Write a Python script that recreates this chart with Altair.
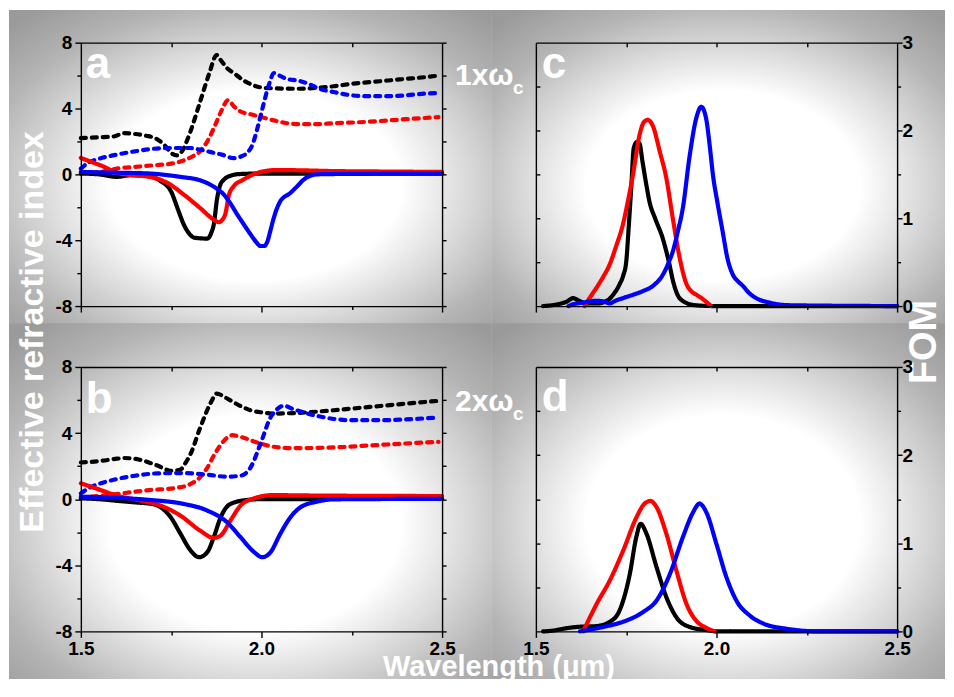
import urllib.parse
import altair as alt
import pandas as pd

FONT = "Liberation Sans"

# ---------------- tick values ----------------
X_MAJOR = [1.5, 2.0, 2.5]
X_MINOR = [1.75, 2.25]
X_TOP = [1.75, 2.0, 2.25]
N_MAJOR = [-8, -4, 0, 4, 8]
N_MINOR = [-6, -2, 2, 6]
N_ALL = [-8, -6, -4, -2, 0, 2, 4, 6, 8]
F_MAJOR = [0, 1, 2, 3]
F_MINOR = [0.5, 1.5, 2.5]
F_INNER = [0.5, 1.0, 1.5, 2.0, 2.5]

# ---------------- panel a (1x wc) ----------------
A_K_DASH_X = [1.50, 1.55, 1.59, 1.62, 1.65, 1.68, 1.71, 1.735, 1.75, 1.767, 1.78, 1.80, 1.83, 1.855, 1.876, 1.887, 1.905, 1.924, 1.951, 1.979, 2.016, 2.1, 2.15, 2.2, 2.25, 2.3, 2.35, 2.4, 2.45, 2.49]
A_K_DASH_Y = [2.2, 2.25, 2.3, 2.5, 2.45, 2.35, 2.15, 1.7, 1.3, 1.15, 1.4, 2.4, 4.4, 6.1, 7.25, 6.95, 6.45, 6.14, 5.7, 5.4, 5.24, 5.2, 5.25, 5.35, 5.5, 5.6, 5.7, 5.8, 5.9, 6.0]
A_R_DASH_X = [1.50, 1.55, 1.58, 1.60, 1.65, 1.70, 1.75, 1.785, 1.81, 1.83, 1.85, 1.87, 1.89, 1.907, 1.925, 1.942, 1.97, 1.997, 2.03, 2.06, 2.1, 2.15, 2.2, 2.3, 2.4, 2.49]
A_R_DASH_Y = [0.1, 0.15, 0.25, 0.35, 0.45, 0.55, 0.65, 0.85, 1.1, 1.4, 2.0, 2.9, 3.9, 4.5, 4.1, 3.82, 3.65, 3.5, 3.3, 3.15, 3.05, 3.05, 3.1, 3.2, 3.35, 3.48]
A_B_DASH_X = [1.50, 1.52, 1.55, 1.60, 1.65, 1.70, 1.75, 1.80, 1.83, 1.86, 1.89, 1.923, 1.945, 1.96, 1.975, 1.99, 2.005, 2.02, 2.035, 2.05, 2.07, 2.1, 2.13, 2.16, 2.2, 2.25, 2.3, 2.35, 2.4, 2.45, 2.49]
A_B_DASH_Y = [0.35, 0.7, 0.95, 1.2, 1.4, 1.55, 1.6, 1.6, 1.5, 1.35, 1.2, 0.99, 1.1, 1.3, 1.8, 2.9, 4.2, 5.4, 6.15, 6.0, 5.8, 5.7, 5.5, 5.2, 5.0, 4.8, 4.75, 4.75, 4.8, 4.9, 4.95]
A_K_SOL_X = [1.50, 1.55, 1.60, 1.64, 1.69, 1.72, 1.75, 1.77, 1.785, 1.80, 1.815, 1.85, 1.862, 1.868, 1.877, 1.885, 1.896, 1.915, 1.94, 2.0, 2.5]
A_K_SOL_Y = [0.05, 0.0, -0.15, -0.05, -0.12, -0.4, -1.05, -2.2, -3.05, -3.6, -3.85, -3.9, -3.5, -3.05, -1.5, -0.7, -0.32, -0.08, 0.02, 0.05, 0.05]
A_R_SOL_X = [1.50, 1.53, 1.56, 1.60, 1.64, 1.69, 1.74, 1.785, 1.83, 1.868, 1.882, 1.892, 1.90, 1.91, 1.923, 1.95, 1.988, 2.04, 2.1, 2.2, 2.3, 2.5]
A_R_SOL_Y = [1.0, 0.75, 0.5, 0.1, -0.05, -0.15, -0.52, -1.23, -2.04, -2.75, -2.9, -2.75, -2.4, -1.25, -0.73, -0.32, 0.08, 0.26, 0.25, 0.2, 0.18, 0.15]
A_B_SOL_X = [1.50, 1.55, 1.60, 1.693, 1.74, 1.785, 1.82, 1.85, 1.875, 1.896, 1.915, 1.933, 1.95, 1.97, 1.985, 1.997, 2.008, 2.016, 2.025, 2.034, 2.052, 2.08, 2.1, 2.117, 2.154, 2.2, 2.5]
A_B_SOL_Y = [0.15, 0.12, 0.1, 0.05, -0.05, -0.18, -0.3, -0.53, -0.85, -1.23, -1.8, -2.44, -3.0, -3.65, -4.1, -4.35, -4.35, -4.1, -3.4, -2.65, -1.64, -1.13, -0.7, -0.32, 0.0, 0.02, 0.05]

# ---------------- panel b (2x wc) ----------------
B_K_DASH_X = [1.50, 1.55, 1.60, 1.62, 1.66, 1.71, 1.75, 1.776, 1.79, 1.804, 1.83, 1.86, 1.876, 1.90, 1.924, 1.95, 1.97, 2.0, 2.034, 2.1, 2.2, 2.3, 2.4, 2.49]
B_K_DASH_Y = [2.22, 2.3, 2.45, 2.49, 2.4, 2.05, 1.72, 1.8, 2.2, 2.75, 4.3, 5.85, 6.39, 6.15, 5.85, 5.55, 5.38, 5.25, 5.18, 5.22, 5.38, 5.58, 5.78, 5.95]
B_R_DASH_X = [1.50, 1.55, 1.60, 1.65, 1.69, 1.76, 1.804, 1.83, 1.85, 1.868, 1.896, 1.919, 1.942, 1.988, 2.034, 2.089, 2.2, 2.3, 2.4, 2.49]
B_R_DASH_Y = [0.11, 0.2, 0.31, 0.45, 0.55, 0.67, 0.92, 1.32, 1.9, 2.63, 3.53, 3.87, 3.77, 3.43, 3.17, 3.09, 3.13, 3.25, 3.37, 3.47]
B_B_DASH_X = [1.50, 1.52, 1.555, 1.60, 1.65, 1.712, 1.785, 1.85, 1.905, 1.942, 1.97, 1.997, 2.025, 2.043, 2.062, 2.089, 2.154, 2.246, 2.34, 2.42, 2.49]
B_B_DASH_Y = [0.35, 0.65, 0.96, 1.22, 1.42, 1.56, 1.58, 1.48, 1.36, 1.42, 1.92, 3.33, 4.94, 5.44, 5.65, 5.44, 5.04, 4.78, 4.78, 4.85, 4.94]
B_K_SOL_X = [1.50, 1.55, 1.60, 1.647, 1.70, 1.721, 1.749, 1.776, 1.804, 1.827, 1.85, 1.868, 1.887, 1.914, 1.96, 2.0, 2.5]
B_K_SOL_Y = [0.05, 0.0, -0.1, -0.19, -0.3, -0.49, -1.1, -2.1, -3.11, -3.51, -3.21, -2.3, -1.1, -0.29, -0.05, 0.0, 0.02]
B_R_SOL_X = [1.50, 1.555, 1.60, 1.666, 1.721, 1.776, 1.83, 1.868, 1.887, 1.914, 1.942, 1.98, 2.034, 2.1, 2.5]
B_R_SOL_Y = [0.96, 0.55, 0.21, -0.09, -0.39, -1.0, -1.9, -2.34, -2.2, -1.3, -0.39, 0.05, 0.25, 0.23, 0.19]
B_B_SOL_X = [1.50, 1.60, 1.693, 1.785, 1.85, 1.905, 1.942, 1.98, 2.002, 2.025, 2.052, 2.08, 2.108, 2.154, 2.2, 2.5]
B_B_SOL_Y = [0.15, 0.08, -0.05, -0.29, -0.69, -1.4, -2.3, -3.21, -3.51, -3.21, -2.1, -1.1, -0.49, -0.15, -0.01, 0.02]

# ---------------- panel c (FOM, 1x wc) ----------------
C_K_X = [1.52, 1.56, 1.585, 1.603, 1.62, 1.64, 1.67, 1.70, 1.714, 1.732, 1.742, 1.75, 1.757, 1.764, 1.771, 1.78, 1.787, 1.795, 1.805, 1.815, 1.83, 1.852, 1.87, 1.88, 1.892, 1.91, 1.94, 2.0, 2.5]
C_K_Y = [0.0, 0.02, 0.05, 0.09, 0.06, 0.03, 0.03, 0.07, 0.13, 0.25, 0.35, 0.5, 0.9, 1.35, 1.8, 1.87, 1.85, 1.65, 1.4, 1.18, 1.0, 0.76, 0.47, 0.28, 0.13, 0.05, 0.01, 0.0, 0.0]
C_R_X = [1.635, 1.65, 1.668, 1.686, 1.704, 1.722, 1.741, 1.755, 1.769, 1.787, 1.80, 1.81, 1.824, 1.843, 1.861, 1.879, 1.898, 1.916, 1.93, 1.944, 1.962, 1.985]
C_R_Y = [0.0, 0.1, 0.21, 0.33, 0.47, 0.68, 0.93, 1.2, 1.5, 1.95, 2.1, 2.12, 2.05, 1.76, 1.46, 1.0, 0.55, 0.26, 0.17, 0.13, 0.08, 0.0]
C_B_X = [1.59, 1.603, 1.63, 1.668, 1.69, 1.704, 1.72, 1.741, 1.77, 1.796, 1.824, 1.852, 1.868, 1.879, 1.893, 1.907, 1.925, 1.944, 1.958, 1.966, 1.972, 1.982, 1.99, 2.003, 2.017, 2.03, 2.045, 2.06, 2.073, 2.09, 2.11, 2.146, 2.2, 2.5]
C_B_Y = [0.0, 0.02, 0.04, 0.06, 0.05, 0.03, 0.06, 0.09, 0.13, 0.17, 0.23, 0.36, 0.5, 0.62, 0.85, 1.12, 1.69, 2.14, 2.27, 2.22, 2.12, 1.8, 1.5, 1.17, 0.85, 0.55, 0.36, 0.28, 0.23, 0.15, 0.09, 0.04, 0.01, 0.0]

# ---------------- panel d (FOM, 2x wc) ----------------
D_K_X = [1.52, 1.55, 1.576, 1.612, 1.668, 1.705, 1.732, 1.76, 1.778, 1.79, 1.806, 1.834, 1.861, 1.889, 1.926, 1.981, 2.0, 2.5]
D_K_Y = [0.0, 0.01, 0.03, 0.05, 0.06, 0.11, 0.24, 0.65, 1.07, 1.22, 1.11, 0.73, 0.39, 0.16, 0.05, 0.01, 0.0, 0.0]
D_R_X = [1.631, 1.668, 1.705, 1.742, 1.778, 1.801, 1.817, 1.834, 1.861, 1.889, 1.917, 1.944, 1.972, 1.995]
D_R_Y = [0.0, 0.31, 0.58, 0.92, 1.29, 1.45, 1.48, 1.41, 1.11, 0.69, 0.31, 0.12, 0.04, 0.0]
D_B_X = [1.622, 1.686, 1.742, 1.797, 1.834, 1.871, 1.907, 1.935, 1.953, 1.972, 2.0, 2.027, 2.055, 2.092, 2.129, 2.193, 2.285, 2.5]
D_B_Y = [0.0, 0.05, 0.11, 0.22, 0.35, 0.65, 1.07, 1.35, 1.45, 1.35, 0.99, 0.62, 0.35, 0.18, 0.09, 0.03, 0.0, 0.0]

BLACK, RED, BLUE = "#000000", "#ff0000", "#0000ff"


def series(xs, ys, color, dash):
    return pd.DataFrame({"x": xs, "y": ys, "c": color, "d": dash})


A_DF = pd.concat([
    series(A_K_DASH_X, A_K_DASH_Y, BLACK, "d"), series(A_R_DASH_X, A_R_DASH_Y, RED, "d"),
    series(A_B_DASH_X, A_B_DASH_Y, BLUE, "d"), series(A_K_SOL_X, A_K_SOL_Y, BLACK, "s"),
    series(A_R_SOL_X, A_R_SOL_Y, RED, "s"), series(A_B_SOL_X, A_B_SOL_Y, BLUE, "s")])
B_DF = pd.concat([
    series(B_K_DASH_X, B_K_DASH_Y, BLACK, "d"), series(B_R_DASH_X, B_R_DASH_Y, RED, "d"),
    series(B_B_DASH_X, B_B_DASH_Y, BLUE, "d"), series(B_K_SOL_X, B_K_SOL_Y, BLACK, "s"),
    series(B_R_SOL_X, B_R_SOL_Y, RED, "s"), series(B_B_SOL_X, B_B_SOL_Y, BLUE, "s")])
C_DF = pd.concat([series(C_K_X, C_K_Y, BLACK, "s"), series(C_R_X, C_R_Y, RED, "s"),
                  series(C_B_X, C_B_Y, BLUE, "s")])
D_DF = pd.concat([series(D_K_X, D_K_Y, BLACK, "s"), series(D_R_X, D_R_Y, RED, "s"),
                  series(D_B_X, D_B_Y, BLUE, "s")])

XS = alt.Scale(domain=[1.5, 2.5], nice=False, zero=False)
NS = alt.Scale(domain=[-8, 8], nice=False, zero=False)
FS = alt.Scale(domain=[0, 3], nice=False, zero=False)

ONE = pd.DataFrame({"k": [0]})


def ax(orient, values=None, tick=0.0, domain=False, labels=False, offset=0,
       expr=None, padding=2):
    kw = dict(orient=orient, title=None, grid=False, zindex=1, domain=domain,
              labels=labels, labelFlush=False, labelOverlap=False,
              domainColor="black", domainWidth=1.4, tickColor="black",
              tickWidth=1.4)
    if values is not None:
        kw["values"] = values
    if tick > 0:
        kw["ticks"] = True
        kw["tickSize"] = tick
    else:
        kw["ticks"] = False
    if offset:
        kw["offset"] = offset
    if labels:
        kw["labelExpr"] = expr
        kw["labelPadding"] = padding
        kw["labelFont"] = FONT
        kw["labelFontSize"] = 19
        kw["labelFontWeight"] = "bold"
        kw["labelColor"] = "black"
    return alt.Axis(**kw)


X_EXPR = "format(datum.value, '.1f')"
INT_EXPR = "'' + datum.value"


def lines(df, ys, xaxis, yaxis):
    return alt.Chart(df).mark_line(strokeWidth=4.2, strokeCap="round",
                                   strokeJoin="round", interpolate="monotone").encode(
        x=alt.X("x:Q", scale=XS, axis=xaxis),
        y=alt.Y("y:Q", scale=ys, axis=yaxis),
        color=alt.Color("c:N", scale=None),
        strokeDash=alt.StrokeDash("d:N", scale=alt.Scale(domain=["d", "s"], range=[[5, 6], [1, 0]]),
                                  legend=None),
    )


def ghost(df, ys, xaxis, yaxis):
    return alt.Chart(df).mark_line(strokeOpacity=0).encode(
        x=alt.X("x:Q", scale=XS, axis=xaxis),
        y=alt.Y("y:Q", scale=ys, axis=yaxis),
    )


def panel_n(df, show_x, height, extra=()):
    l1 = lines(df, NS,
               ax("bottom", X_MAJOR, 6, True, labels=show_x, expr=X_EXPR, padding=2),
               ax("left", N_MAJOR, 6, True, labels=True, expr=INT_EXPR, padding=3))
    l2 = ghost(df, NS, ax("top", None, 0, True), ax("right", N_ALL, 4, True))
    l3 = ghost(df, NS, ax("top", X_TOP, 4, False, offset=-4), ax("left", N_MINOR, 4, False))
    l4 = ghost(df, NS, ax("bottom", X_MINOR, 3.5, False), None)
    return alt.layer(*extra, l1, l2, l3, l4).resolve_axis(
        x="independent", y="independent").properties(width=362, height=height)


def panel_f(df, show_x, height):
    l1 = lines(df, FS,
               ax("bottom", X_MAJOR, 6, True, labels=show_x, expr=X_EXPR, padding=2),
               ax("right", F_MAJOR, 5, True, labels=True, expr=INT_EXPR, padding=0))
    l2 = ghost(df, FS, ax("top", None, 0, True), ax("left", None, 0, True))
    l3 = ghost(df, FS, ax("top", X_TOP, 4, False, offset=-4),
               ax("left", F_INNER, 4, False, offset=-4))
    l4 = ghost(df, FS, ax("bottom", X_MINOR, 3.5, False), ax("right", F_MINOR, 3.5, False))
    return alt.layer(l1, l2, l3, l4).resolve_axis(
        x="independent", y="independent").properties(width=362, height=height)


# ---------------- decoration: shaded quadrant backgrounds + white labels ----------------
SVG = ('<svg xmlns="http://www.w3.org/2000/svg" width="200" height="200" '
       'viewBox="0 0 200 200" preserveAspectRatio="none"><defs>'
       '<radialGradient id="g" cx="0.51" cy="0.56" r="0.72">'
       '<stop offset="0" stop-color="#ffffff"/>'
       '<stop offset="0.42" stop-color="#ffffff"/>'
       '<stop offset="0.6" stop-color="#dcdcdc"/>'
       '<stop offset="0.8" stop-color="#b4b4b4"/>'
       '<stop offset="1" stop-color="#9a9a9a"/>'
       '</radialGradient></defs>'
       '<rect width="200" height="200" fill="url(#g)"/></svg>')
BG_URL = "data:image/svg+xml;charset=utf-8," + urllib.parse.quote(SVG, safe="")


def bg(x, y, w, h):
    return alt.Chart(ONE).mark_image(width=w, height=h, aspect=False, align="left",
                                     baseline="top").encode(
        x=alt.value(x), y=alt.value(y), url=alt.value(BG_URL))


def label(txt, x, y, size, angle=0, align="left"):
    return alt.Chart(ONE).mark_text(text=txt, font=FONT, fontSize=size, fontWeight="bold",
                                    color="white", align=align, baseline="alphabetic",
                                    angle=angle).encode(x=alt.value(x), y=alt.value(y))


DECOR = [
    bg(-72, -33, 484, 314), bg(412, -33, 454, 314),
    bg(-72, 281, 484, 357), bg(412, 281, 454, 357),
]
TEXTS = [
    label("a", 5, 35, 44), label("c", 462, 35, 44),
    label("b", 5, 371, 44), label("d", 462, 369, 44),
    label("1x\u03c9", 375, 42, 30), label("c", 433, 51, 19),
    label("2x\u03c9", 375, 369, 30), label("c", 433, 378, 19),
    label("Effective refractive index", -38, 290, 34, angle=270, align="center"),
    label("Wavelength (\u03bcm)", 419, 635, 29, align="center"),
    label("FOM", 857, 300, 38, angle=270, align="center"),
]

pa = panel_n(A_DF, False, 264, extra=DECOR)
pa = alt.layer(pa, *TEXTS)
pc = panel_f(C_DF, False, 264)
pb = panel_n(B_DF, True, 265)
pdd = panel_f(D_DF, True, 265)

chart = alt.concat(pa, pc, pb, pdd, columns=2, spacing={"row": 61, "column": 94},
                   bounds="flush").properties(
    padding={"left": 0, "top": 0, "right": 0, "bottom": 0}, background="white"
).configure_view(stroke="transparent")

chart.save("out.html", embed_options={"renderer": "svg", "actions": False})
